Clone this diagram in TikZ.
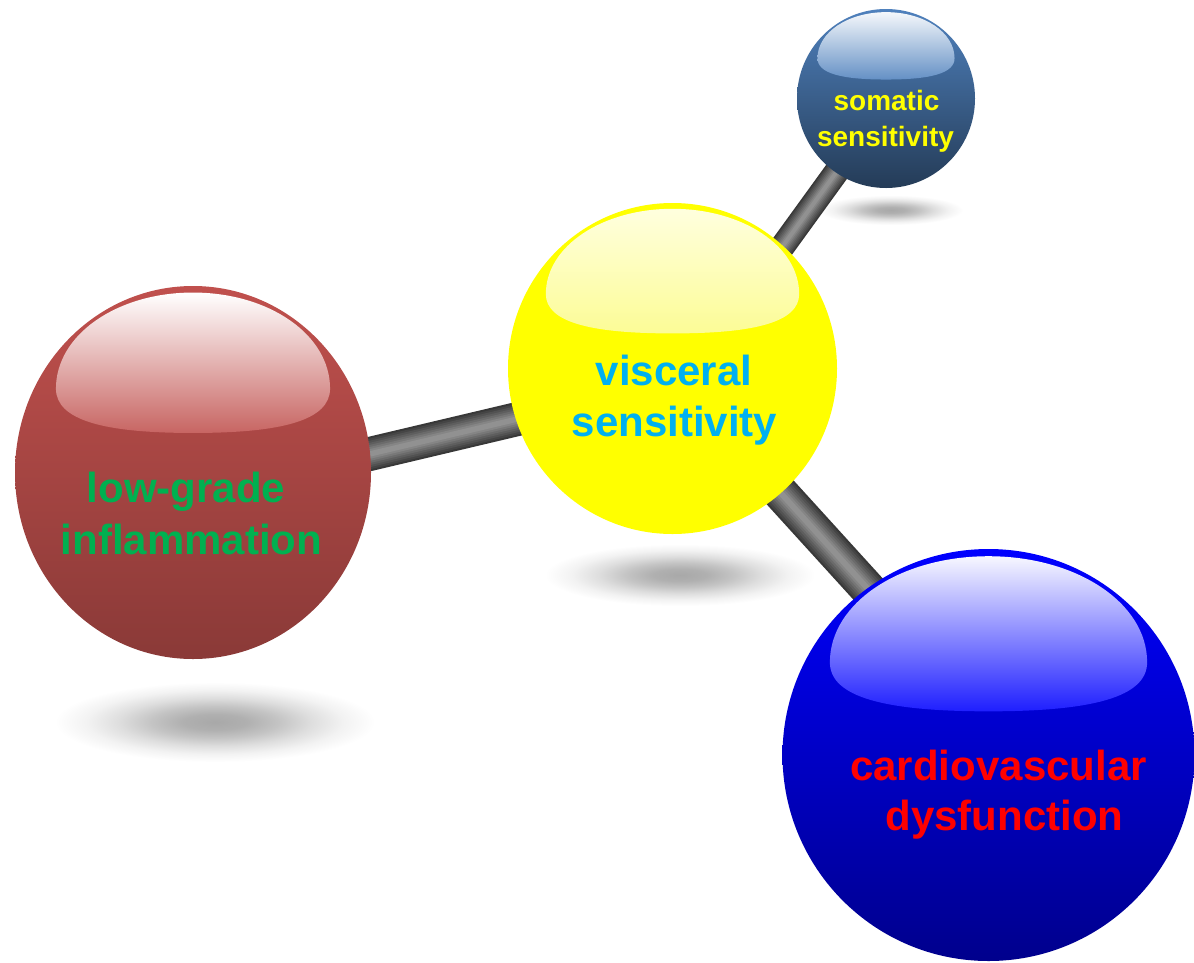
\documentclass[tikz,border=0pt]{standalone}
\usepackage{fontspec}
\setmainfont{Liberation Sans}
\usetikzlibrary{shapes.geometric}
\pgfdeclarelayer{background}
\pgfsetlayers{background,main}
\definecolor{redS}{RGB}{192,80,77}
\definecolor{steelS}{RGB}{79,129,189}
\definecolor{greenT}{RGB}{0,176,80}
\definecolor{cyanT}{RGB}{0,176,240}
\definecolor{pureY}{RGB}{255,255,0}
\definecolor{hlYtop}{RGB}{255,255,222}
\definecolor{hlYbot}{RGB}{252,252,150}
\definecolor{ba}{gray}{0.22}
\definecolor{bb}{gray}{0.27}
\definecolor{bc}{gray}{0.32}
\definecolor{bd}{gray}{0.37}
\definecolor{be}{gray}{0.42}
\definecolor{bf}{gray}{0.47}
\definecolor{bg}{gray}{0.52}
\definecolor{bh}{gray}{0.57}
\pgfdeclareradialshading{sphshadow}{\pgfpoint{0bp}{0bp}}{rgb(0bp)=(0.66,0.66,0.66); rgb(5bp)=(0.69,0.69,0.69); rgb(10bp)=(0.77,0.77,0.77); rgb(15bp)=(0.87,0.87,0.87); rgb(20bp)=(0.95,0.95,0.95); rgb(25bp)=(1,1,1); rgb(50bp)=(1,1,1)}
\newcommand\glare[5]{%
  \shade[top color=#4, bottom color=#5, shift={(#1.center)}, x=#2pt, y=#3pt]
    (-0.77,0.45) .. controls (-0.77,0.74) and (-0.425,0.965) .. (0,0.965)
    .. controls (0.425,0.965) and (0.77,0.74) .. (0.77,0.45)
    .. controls (0.77,0.28) and (0.5,0.212) .. (0,0.212)
    .. controls (-0.5,0.212) and (-0.77,0.28) .. (-0.77,0.45) -- cycle;}
\begin{document}
\begin{tikzpicture}[x=1pt,y=-1pt,
  sphere/.style={ellipse, inner sep=0pt, outer sep=0pt},
  lbl/.style={anchor=base, inner sep=0pt, font=\bfseries\fontsize{42}{50}\selectfont},
  slbl/.style={anchor=base, inner sep=0pt, font=\bfseries\fontsize{28}{34}\selectfont},
  shadowblob/.style={shading=sphshadow},
  bar/.style={line width=#1, draw=ba, line cap=butt, shorten <=-14pt, shorten >=-14pt,
    postaction={draw=bb, line width=0.88*#1},
    postaction={draw=bc, line width=0.76*#1},
    postaction={draw=bd, line width=0.64*#1},
    postaction={draw=be, line width=0.52*#1},
    postaction={draw=bf, line width=0.40*#1},
    postaction={draw=bg, line width=0.28*#1},
    postaction={draw=bh, line width=0.16*#1}}]
\useasboundingbox (0,0) rectangle (1194,962);

% spheres
\node[sphere, minimum width=356pt, minimum height=373pt, top color=redS, bottom color=redS!72!black] (red) at (193,472.5) {};
\node[sphere, minimum width=329pt, minimum height=331pt, fill=pureY] (yellow) at (672.5,368.5) {};
\node[sphere, minimum width=178pt, minimum height=179pt, top color=steelS, bottom color=steelS!46!black] (som) at (886,98.5) {};
\node[sphere, minimum width=412pt, minimum height=412pt, top color=blue, bottom color=blue!55!black] (cardio) at (988.5,755) {};

% highlights
\glare{red}{178}{186.5}{white}{redS!88!white}
\glare{yellow}{164.5}{165.5}{hlYtop}{hlYbot}
\glare{som}{89}{89.5}{white!94!steelS}{steelS!88!white}
\glare{cardio}{206}{206}{white!97!blue}{blue!88!white}

% labels
\node[lbl, text=greenT] (lg1) at (186,502) {low-grade};
\node[lbl, text=greenT] (lg2) at (191.5,554) {inflammation};
\node[lbl, text=cyanT] (vs1) at (674,385) {visceral};
\node[lbl, text=cyanT] (vs2) at (674.5,436) {sensitivity};
\node[slbl, text=pureY] (ss1) at (886.5,110.5) {somatic};
\node[slbl, text=pureY] (ss2) at (885.5,146.5) {sensitivity};
\node[lbl, text=red] (cd1) at (998.5,780) {cardiovascular};
\node[lbl, text=red] (cd2) at (1004.5,830.5) {dysfunction};

\begin{pgfonlayer}{background}
\fill[white] (0,0) rectangle (1194,962);
\shade[shadowblob] (215,722) ellipse [x radius=160, y radius=40];
\shade[shadowblob] (680,575) ellipse [x radius=135, y radius=31];
\shade[shadowblob] (891,210) ellipse [x radius=72, y radius=15];
\draw[bar=34pt] (red.6.35) -- (yellow.198.5);
\draw[bar=36pt] (yellow.-49.3) -- (cardio.126.7);
\draw[bar=25pt] (yellow.48.7) -- (som.236);
\end{pgfonlayer}
\end{tikzpicture}
\end{document}
